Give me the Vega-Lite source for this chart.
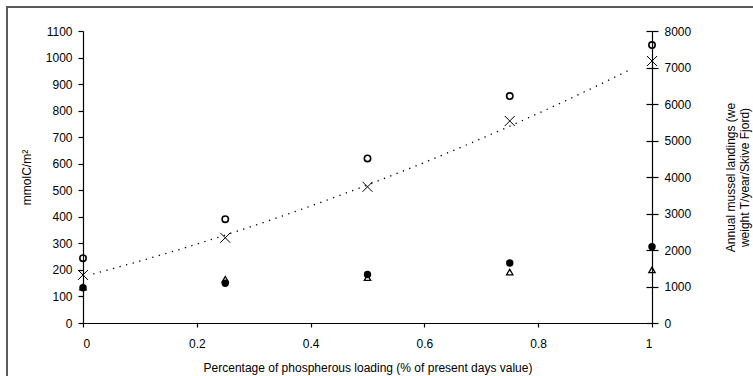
{
  "$schema": "https://vega.github.io/schema/vega-lite/v6.json",
  "width": 569,
  "height": 292,
  "autosize": {"type": "none"},
  "padding": {"left": 83, "top": 31, "right": 101, "bottom": 53},
  "background": "white",
  "config": {
    "view": {"stroke": null},
    "font": "Liberation Sans",
    "axis": {
      "grid": false,
      "domainColor": "#000",
      "domainWidth": 1.2,
      "tickColor": "#000",
      "tickWidth": 1.2,
      "labelColor": "#000",
      "titleColor": "#000",
      "labelFont": "Liberation Sans",
      "titleFont": "Liberation Sans",
      "labelFontSize": 12,
      "titleFontSize": 12,
      "titleFontWeight": "normal"
    }
  },
  "datasets": {
    "carbon": [
      {"p": 0, "series": "O", "value": 244},
      {"p": 0.25, "series": "O", "value": 391},
      {"p": 0.5, "series": "O", "value": 620},
      {"p": 0.75, "series": "O", "value": 855},
      {"p": 1, "series": "O", "value": 1047},
      {"p": 0, "series": "X", "value": 181},
      {"p": 0.25, "series": "X", "value": 321},
      {"p": 0.5, "series": "X", "value": 513},
      {"p": 0.75, "series": "X", "value": 761},
      {"p": 1, "series": "X", "value": 987}
    ],
    "landings": [
      {"p": 0, "series": "triangle", "value": 985},
      {"p": 0.25, "series": "triangle", "value": 1200},
      {"p": 0.5, "series": "triangle", "value": 1244},
      {"p": 0.75, "series": "triangle", "value": 1396},
      {"p": 1, "series": "triangle", "value": 1455},
      {"p": 0, "series": "filled", "value": 967},
      {"p": 0.25, "series": "filled", "value": 1091},
      {"p": 0.5, "series": "filled", "value": 1331},
      {"p": 0.75, "series": "filled", "value": 1644},
      {"p": 1, "series": "filled", "value": 2087}
    ]
  },
  "encoding": {
    "x": {
      "field": "p",
      "type": "quantitative",
      "scale": {"domain": [0, 1], "nice": false, "zero": false},
      "axis": {
        "title": "Percentage of phospherous loading (% of present days value)",
        "values": [0, 0.2, 0.4, 0.6, 0.8, 1],
        "format": "~g",
        "tickSize": 4,
        "labelPadding": 11,
        "titlePadding": 13
      }
    }
  },
  "layer": [
    {
      "data": {"name": "carbon"},
      "encoding": {
        "y": {
          "field": "value",
          "type": "quantitative",
          "scale": {"domain": [0, 1100], "nice": false},
          "axis": {
            "orient": "left",
            "title": "mmolC/m²",
            "format": "d",
            "values": [0, 100, 200, 300, 400, 500, 600, 700, 800, 900, 1000, 1100],
            "tickSize": 5,
            "labelPadding": 6,
            "titlePadding": 12
          }
        }
      },
      "layer": [
        {
          "data": {"values": [{"left": -0.1336, "right": 1.3, "top": 1190, "bottom": -300}]},
          "mark": {"type": "rect", "filled": false, "stroke": "#5a5a5a", "strokeWidth": 2, "strokeOpacity": 1, "opacity": 1, "clip": false},
          "encoding": {
            "x": {"field": "left", "type": "quantitative"},
            "x2": {"field": "right"},
            "y": {"field": "top", "type": "quantitative"},
            "y2": {"field": "bottom"}
          }
        },
        {
          "transform": [
            {"filter": "datum.series === 'X'"},
            {"regression": "value", "on": "p", "method": "poly", "order": 2, "extent": [0.018, 0.961]}
          ],
          "mark": {"type": "line", "color": "#000", "strokeWidth": 1.3, "strokeDash": [1.3, 5.5]}
        },
        {
          "transform": [{"filter": "datum.series === 'O'"}],
          "mark": {"type": "point", "shape": "circle", "filled": false, "color": "#000", "size": 40, "strokeWidth": 1.6, "opacity": 1}
        },
        {
          "transform": [{"filter": "datum.series === 'X'"}],
          "mark": {"type": "point", "shape": "M-1,-1L1,1M-1,1L1,-1", "filled": false, "color": "#000", "size": 100, "strokeWidth": 1, "opacity": 1}
        },
        {
          "data": {"values": [{}]},
          "mark": {"type": "text", "text": "Phosphorus scenaries", "align": "left", "baseline": "middle", "fontSize": 12, "fontWeight": "bold", "color": "#000"},
          "encoding": {
            "x": {"datum": 0.028, "type": "quantitative"},
            "y": {"datum": 1055, "type": "quantitative"}
          }
        }
      ]
    },
    {
      "data": {"name": "landings"},
      "encoding": {
        "y": {
          "field": "value",
          "type": "quantitative",
          "scale": {"domain": [0, 8000], "nice": false}
        }
      },
      "layer": [
        {
          "transform": [{"filter": "datum.series === 'triangle'"}],
          "mark": {"type": "point", "shape": "triangle-up", "filled": false, "color": "#000", "size": 40, "strokeWidth": 1.3, "opacity": 1},
          "encoding": {
            "y": {
              "field": "value",
              "type": "quantitative",
              "axis": {
                "orient": "right",
                "title": null,
                "labels": false,
                "domain": false,
                "tickSize": -6,
                "values": [0, 1000, 2000, 3000, 4000, 5000, 6000, 7000, 8000]
              }
            }
          }
        },
        {
          "transform": [{"filter": "datum.series === 'filled'"}],
          "mark": {"type": "point", "shape": "circle", "filled": true, "color": "#000", "size": 55, "opacity": 1},
          "encoding": {
            "y": {
              "field": "value",
              "type": "quantitative",
              "axis": {
                "orient": "right",
                "title": ["Annual mussel landings (we", "weight T/year/Skive Fjord)"],
                "titleAngle": 270,
                "format": "d",
                "values": [0, 1000, 2000, 3000, 4000, 5000, 6000, 7000, 8000],
                "tickSize": 6,
                "labelPadding": 6,
                "titlePadding": 33
              }
            }
          }
        }
      ],
      "resolve": {"axis": {"y": "independent"}}
    }
  ],
  "resolve": {"scale": {"y": "independent"}}
}
